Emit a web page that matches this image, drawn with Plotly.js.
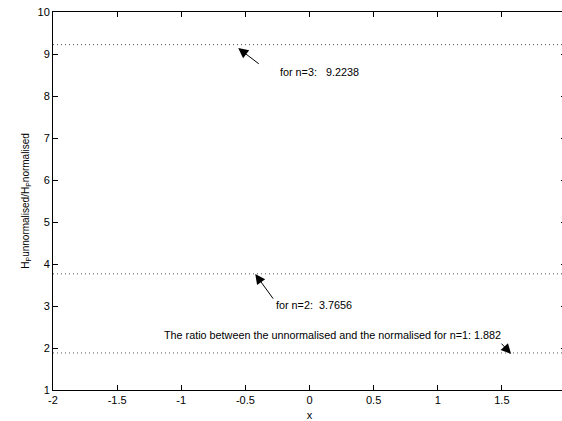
<!DOCTYPE html>
<html>
<head>
<meta charset="utf-8">
<script src="https://cdn.plot.ly/plotly-3.0.1.min.js"></script>
<style>
html,body{margin:0;padding:0;background:#fff;overflow:hidden;width:562px;height:421px;}
#chart{width:600px;height:421px;}
</style>
</head>
<body>
<div id="chart"></div>
<script>
// Data
const xSpan = [-2, 2];
const nValues = [1, 2, 3];
const ratios = [1.882, 3.7656, 9.2238];
const labelTexts = [
  "The ratio between the unnormalised and the normalised for n=1: 1.882",
  "for n=2:  3.7656",
  "for n=3:   9.2238"
];
// annotation anchor points (data coords)
const arrowTipX = [1.572, -0.423, -0.556];
const arrowTipY = [1.857, 3.762, 9.14];
const arrowTailX = [1.486, -0.275, -0.384];
const arrowTailY = [2.14, 3.14, 8.74];
const labelX = [0.181, 0.037, 0.076];
const labelY = [2.31, 3.02, 8.57];
const xTicks = [-2, -1.5, -1, -0.5, 0, 0.5, 1, 1.5];
const yTicks = [1, 2, 3, 4, 5, 6, 7, 8, 9, 10];

const traces = ratios.map((r, i) => ({
  x: xSpan,
  y: [r, r],
  mode: 'lines',
  type: 'scatter',
  name: 'n=' + nValues[i],
  line: {color: '#555', width: 1, dash: '1px,3px'},
  hoverinfo: 'skip'
}));

const annotations = [];
ratios.forEach((r, i) => {
  annotations.push({
    x: arrowTipX[i], y: arrowTipY[i], xref: 'x', yref: 'y',
    ax: arrowTailX[i], ay: arrowTailY[i], axref: 'x', ayref: 'y',
    text: '', showarrow: true, arrowhead: 2, arrowsize: 2, arrowwidth: 1, arrowcolor: '#000'
  });
  annotations.push({
    x: labelX[i], y: labelY[i], xref: 'x', yref: 'y',
    text: labelTexts[i], showarrow: false,
    font: {family: 'Liberation Sans, Arial, sans-serif', size: 10.8, color: '#000'}
  });
});

const axisCommon = {
  showgrid: false, zeroline: false, showline: true, linecolor: '#000', linewidth: 1,
  ticks: 'inside', ticklen: 5, tickcolor: '#000', mirror: 'ticks',
  tickfont: {family: 'Liberation Sans, Arial, sans-serif', size: 11, color: '#000'}
};

const layout = {
  width: 600, height: 421,
  margin: {l: 53, r: 34, t: 12, b: 31},
  paper_bgcolor: '#fff', plot_bgcolor: '#fff',
  showlegend: false,
  font: {family: 'Liberation Sans, Arial, sans-serif', size: 11, color: '#000'},
  xaxis: Object.assign({}, axisCommon, {
    range: [-2, 2], tickvals: xTicks, ticktext: xTicks.map(String),
    title: {text: 'x', standoff: 9, font: {size: 11}}
  }),
  yaxis: Object.assign({}, axisCommon, {
    range: [1, 10], tickvals: yTicks, ticktext: yTicks.map(String),
    title: {text: 'H<sub>P</sub>unnormalised/H<sub>P</sub>normalised', standoff: 6, font: {size: 10}}
  }),
  annotations: annotations
};

Plotly.newPlot('chart', traces, layout, {displayModeBar: false, staticPlot: true});
</script>
</body>
</html>
